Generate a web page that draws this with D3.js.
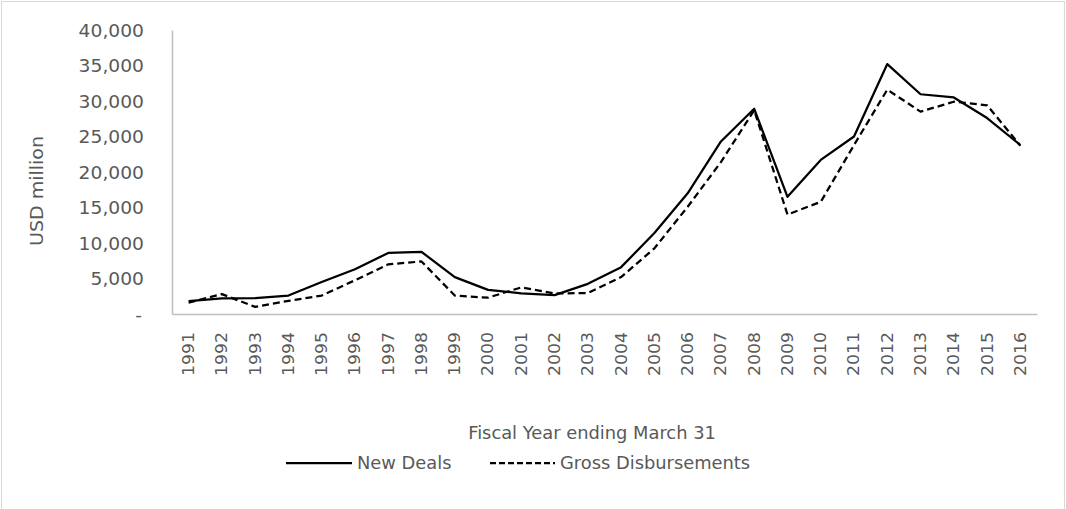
<!DOCTYPE html>
<html>
<head>
<meta charset="utf-8">
<script src="https://cdn.jsdelivr.net/npm/d3@7"></script>
<style>
  html, body { margin: 0; padding: 0; background: #ffffff; }
  svg { display: block; }
  text { font-family: "DejaVu Sans", sans-serif; fill: #595959; }
</style>
</head>
<body>
<svg id="chart" width="1066" height="509"></svg>
<script>
const years = ["1991","1992","1993","1994","1995","1996","1997","1998","1999","2000","2001","2002","2003","2004","2005","2006","2007","2008","2009","2010","2011","2012","2013","2014","2015","2016"];
const newDeals = [1800,2200,2250,2600,4500,6300,8600,8750,5200,3400,2900,2650,4250,6600,11400,17000,24300,28900,16500,21700,25000,35200,30950,30500,27600,23800];
const grossDisb = [1600,2800,1000,1850,2600,4750,7000,7400,2600,2300,3750,2900,2950,5200,9250,15100,21400,28700,14000,15800,23800,31600,28500,29900,29400,23700];
const yTicks = [0,5000,10000,15000,20000,25000,30000,35000,40000];
const seriesNames = ["New Deals","Gross Disbursements"];

const svg = d3.select("#chart");
const plot = {left: 172, right: 1037, top: 30, bottom: 314};

// outer frame
svg.append("rect")
  .attr("x", 1.5).attr("y", 1.5).attr("width", 1063).attr("height", 520)
  .attr("fill", "none").attr("stroke", "#d9d9d9").attr("stroke-width", 1);

const x = d3.scaleBand().domain(years).range([plot.left, plot.right]);
const y = d3.scaleLinear().domain([0, 40000]).range([plot.bottom, plot.top]);
const fmt = d3.format(",");

// Y axis
const yAxis = d3.axisLeft(y).tickValues(yTicks).tickSize(0).tickPadding(0)
  .tickFormat(d => d === 0 ? "-" : fmt(d));
const gy = svg.append("g").attr("transform", `translate(${plot.left},0)`).call(yAxis);
gy.select(".domain").attr("stroke", "#bfbfbf").attr("stroke-width", 1.5);
gy.selectAll(".tick text")
  .attr("font-size", 17)
  .attr("x", 0).attr("dy", "0.36em")
  .attr("text-anchor", "end")
  .attr("font-family", "DejaVu Sans")
  .attr("fill", "#595959")
  .attr("transform", d => `translate(${d === 0 ? -30 : -28},0) scale(1.1,1)`);

// X axis
const xAxis = d3.axisBottom(x).tickSize(0).tickPadding(0);
const gx = svg.append("g").attr("transform", `translate(0,${plot.bottom})`).call(xAxis);
gx.select(".domain").attr("stroke", "#bfbfbf").attr("stroke-width", 1.5);
gx.selectAll(".tick text")
  .attr("font-size", 15)
  .attr("font-family", "DejaVu Sans")
  .attr("fill", "#595959")
  .attr("y", 0).attr("x", 0).attr("dy", "0.36em")
  .attr("text-anchor", "start")
  .attr("transform", "translate(0,62) rotate(-90) scale(1.15,1)");

// Lines
const line = d3.line().x((d, i) => x(years[i]) + x.bandwidth() / 2).y(d => y(d));
svg.append("path").datum(newDeals)
  .attr("d", line).attr("fill", "none")
  .attr("stroke", "#000").attr("stroke-width", 2.25).attr("stroke-linejoin", "round");
svg.append("path").datum(grossDisb)
  .attr("d", line).attr("fill", "none")
  .attr("stroke", "#000").attr("stroke-width", 2.25)
  .attr("stroke-dasharray", "7,4").attr("stroke-linejoin", "round");

// Axis titles
svg.append("text")
  .attr("transform", "translate(43,191) rotate(-90) scale(1.12,1)")
  .attr("text-anchor", "middle")
  .attr("font-size", 17)
  .text("USD million");
svg.append("text")
  .attr("transform", "translate(592,439) scale(1.05,1)")
  .attr("text-anchor", "middle")
  .attr("font-size", 17)
  .text("Fiscal Year ending March 31");

// Legend
const legend = svg.append("g");
const legItems = [
  {name: seriesNames[0], x1: 286, x2: 352, dash: null},
  {name: seriesNames[1], x1: 490, x2: 555, dash: "6,3"}
];
legItems.forEach(it => {
  legend.append("line")
    .attr("x1", it.x1).attr("x2", it.x2).attr("y1", 463).attr("y2", 463)
    .attr("stroke", "#000").attr("stroke-width", 2.25)
    .attr("stroke-dasharray", it.dash);
  legend.append("text")
    .attr("transform", `translate(${it.x2 + 5},469) scale(1.05,1)`)
    .attr("font-size", 17)
    .text(it.name);
});
</script>
</body>
</html>
